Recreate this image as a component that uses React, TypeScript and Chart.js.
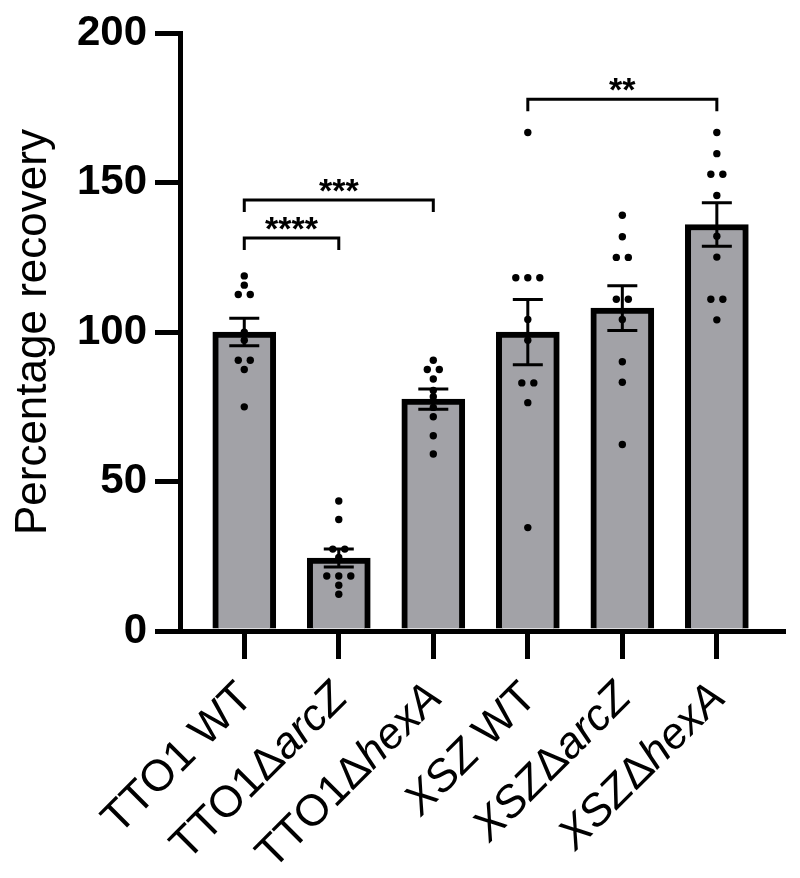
import React, { useEffect, useRef } from 'react';
import { Chart, registerables } from 'chart.js';

Chart.register(...registerables);

// ---------- data ----------
const categories = ['TTO1 WT', 'TTO1ΔarcZ', 'TTO1ΔhexA', 'XSZ WT', 'XSZΔarcZ', 'XSZΔhexA'];
// label pieces: [text, italic]
const labelParts: [string, boolean][][] = [
  [['TTO1 WT', false]],
  [['TTO1Δ', false], ['arcZ', true]],
  [['TTO1Δ', false], ['hexA', true]],
  [['XSZ', true], [' WT', false]],
  [['XSZ', true], ['Δ', false], ['arcZ', true]],
  [['XSZ', true], ['Δ', false], ['hexA', true]],
];
const barMeans = [100, 24.4, 77.6, 100, 108, 136];
const barSems = [4.6, 3.0, 3.4, 10.9, 7.5, 7.3];

const pointsTTO1WT = [118.8, 115.7, 112.6, 112.6, 100, 97.3, 90.6, 90.6, 87.5, 75.0];
const pointsTTO1arcZ = [43.5, 37.3, 27.4, 27.4, 24.6, 18.4, 18.4, 18.4, 15.3, 12.3];
const pointsTTO1hexA = [90.6, 87.5, 87.5, 84.3, 80.5, 78.4, 74.8, 71.7, 65.3, 59.2];
const pointsXSZWT = [166.8, 118.2, 118.2, 118.2, 104.2, 97.3, 83.0, 83.0, 76.4, 34.6];
const pointsXSZarcZ = [139.1, 131.9, 125.0, 125.0, 111.0, 111.0, 104.2, 90.1, 83.2, 62.4];
const pointsXSZhexA = [166.8, 159.7, 152.8, 152.8, 145.7, 132.1, 125.1, 111.0, 111.0, 104.1];
const groupPoints = [pointsTTO1WT, pointsTTO1arcZ, pointsTTO1hexA, pointsXSZWT, pointsXSZarcZ, pointsXSZhexA];

const yMin = 0;
const yMax = 200;
const yStep = 50;

const bracketStart = [0, 0, 3];
const bracketEnd = [1, 2, 5];
const bracketLevel = [131.5, 144.2, 177.9];
const bracketText = ['****', '***', '**'];

// ---------- style ----------
const FONT = '"Liberation Sans", Arial, Helvetica, sans-serif';
const BAR_FILL = '#a2a2a7';
const JITTER = 0.127;

const scatterData = groupPoints.flatMap((vals, i) =>
  vals.map((v, k) => {
    const n = vals.filter((u) => u === v).length;
    const idx = vals.slice(0, k).filter((u) => u === v).length;
    return { x: i + (idx - (n - 1) / 2) * JITTER, y: v };
  })
);
const barData = barMeans.map((m, i) => ({ x: i, y: m }));

const overlay = {
  id: 'overlay',
  afterDatasetsDraw(chart: any) {
    const { ctx } = chart;
    const x = chart.scales.x;
    const y = chart.scales.y;
    ctx.save();
    ctx.strokeStyle = '#000';
    ctx.lineWidth = 3;
    // error bars
    barMeans.forEach((m, i) => {
      const cx = x.getPixelForValue(i);
      const top = y.getPixelForValue(m + barSems[i]);
      const bot = y.getPixelForValue(m - barSems[i]);
      ctx.beginPath();
      ctx.moveTo(cx, top);
      ctx.lineTo(cx, bot);
      ctx.moveTo(cx - 15, top);
      ctx.lineTo(cx + 15, top);
      ctx.moveTo(cx - 15, bot);
      ctx.lineTo(cx + 15, bot);
      ctx.stroke();
    });
    // significance brackets
    ctx.fillStyle = '#000';
    ctx.textAlign = 'center';
    ctx.textBaseline = 'alphabetic';
    ctx.font = `bold 34px ${FONT}`;
    bracketLevel.forEach((lv, j) => {
      const x1 = x.getPixelForValue(bracketStart[j]);
      const x2 = x.getPixelForValue(bracketEnd[j]);
      const py = y.getPixelForValue(lv);
      ctx.beginPath();
      ctx.moveTo(x1, py + 12);
      ctx.lineTo(x1, py);
      ctx.lineTo(x2, py);
      ctx.lineTo(x2, py + 12);
      ctx.stroke();
      ctx.fillText(bracketText[j], (x1 + x2) / 2, py + 2);
    });
    ctx.restore();
  },
  afterDraw(chart: any) {
    const { ctx } = chart;
    const x = chart.scales.x;
    ctx.save();
    ctx.fillStyle = '#000';
    ctx.textBaseline = 'middle';
    ctx.textAlign = 'left';
    labelParts.forEach((parts, i) => {
      const fonts = parts.map(([, it]) => `${it ? 'italic ' : ''}44px ${FONT}`);
      let total = 0;
      const widths = parts.map(([t], k) => {
        ctx.font = fonts[k];
        const w = ctx.measureText(t).width;
        total += w;
        return w;
      });
      ctx.save();
      ctx.translate(x.getPixelForValue(i) + 2, 691);
      ctx.rotate(-Math.PI / 4);
      let pos = -total;
      parts.forEach(([t], k) => {
        ctx.font = fonts[k];
        ctx.fillText(t, pos, 0);
        pos += widths[k];
      });
      ctx.restore();
    });
    ctx.restore();
  },
};

export default function App() {
  const ref = useRef<HTMLCanvasElement>(null);
  useEffect(() => {
    const chart = new Chart(ref.current as HTMLCanvasElement, {
      type: 'bar',
      data: {
        datasets: [
          {
            type: 'scatter',
            data: scatterData,
            pointRadius: 3.7,
            pointBackgroundColor: '#000',
            pointBorderColor: '#000',
            pointBorderWidth: 0,
            order: 0,
          } as any,
          {
            type: 'bar',
            data: barData,
            backgroundColor: BAR_FILL,
            borderColor: '#000',
            borderWidth: 6,
            borderSkipped: 'start',
            barThickness: 63,
            order: 1,
          } as any,
        ],
      },
      options: {
        responsive: false,
        devicePixelRatio: 1,
        animation: false,
        events: [],
        layout: { padding: { left: 0, right: 17, top: 33, bottom: 0 } },
        plugins: { legend: { display: false }, tooltip: { enabled: false } },
        scales: {
          x: {
            type: 'linear',
            offset: false,
            min: -0.68,
            max: 5.7,
            afterBuildTicks: (s: any) => {
              s.ticks = categories.map((_, i) => ({ value: i }));
            },
            afterFit: (s: any) => {
              s.height = 247;
            },
            ticks: { display: false },
            grid: {
              offset: false,
              drawOnChartArea: false,
              drawTicks: true,
              tickLength: 28,
              tickWidth: 5,
              tickColor: '#000',
              lineWidth: 5,
            },
            border: { display: true, width: 5, color: '#000' },
          },
          y: {
            min: yMin,
            max: yMax,
            afterFit: (s: any) => {
              s.width = 180;
            },
            ticks: {
              stepSize: yStep,
              color: '#000',
              padding: 8,
              font: { family: FONT, size: 42, weight: 'bold' },
            },
            grid: {
              drawOnChartArea: false,
              drawTicks: true,
              tickLength: 25,
              tickWidth: 5,
              tickColor: '#000',
              lineWidth: 5,
            },
            border: { display: true, width: 5, color: '#000' },
            title: {
              display: true,
              text: 'Percentage recovery',
              color: '#000',
              font: { family: FONT, size: 44, weight: 'normal' },
              padding: { top: 7, bottom: 0 },
            },
          },
        },
      } as any,
      plugins: [overlay],
    });
    return () => chart.destroy();
  }, []);
  return (
    <div style={{ position: 'absolute', left: 0, top: 0, width: 800, height: 878, background: '#fff' }}>
      <canvas ref={ref} width={800} height={878} style={{ width: 800, height: 878, display: 'block' }} />
    </div>
  );
}
